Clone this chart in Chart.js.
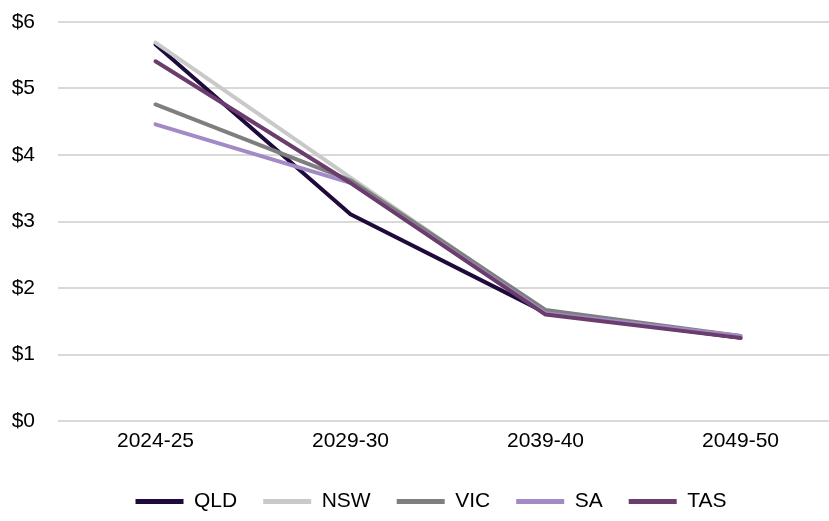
<!DOCTYPE html>
<html>
<head>
<meta charset="utf-8">
<script src="https://cdn.jsdelivr.net/npm/chart.js@4"></script>
<style>
  html, body { margin: 0; padding: 0; background: #fff; overflow: hidden; }
  .wrap { position: relative; width: 838px; height: 521px; }
</style>
</head>
<body>
<div class="wrap"><canvas id="myChart"></canvas></div>
<script>
const years = ["2024-25", "2029-30", "2039-40", "2049-50"];
const states = ["QLD", "NSW", "VIC", "SA", "TAS"];
const qld = [5.66, 3.11, 1.63, 1.25];
const nsw = [5.69, 3.66, 1.65, 1.27];
const vic = [4.76, 3.62, 1.67, 1.28];
const sa = [4.46, 3.58, 1.62, 1.28];
const tas = [5.41, 3.58, 1.60, 1.25];
const yTicks = [0, 1, 2, 3, 4, 5, 6];

const colors = ["#1e0b3c", "#c9c9c9", "#7f7f7f", "#a18ac6", "#6b3d6c"];
const series = [qld, nsw, vic, sa, tas];

const font = "'Liberation Sans Narrow', 'Arial Narrow', 'Liberation Sans', Arial, sans-serif";

const ctx = document.getElementById("myChart").getContext("2d");

// nudge legend so it sits where the reference has it
const legendShift = {
  id: "legendShift",
  afterLayout(chart) {
    const lg = chart.legend;
    lg.left += 24;
    lg.top += 1;
    lg.bottom += 1;
  }
};

const myChart = new Chart(ctx, {
  type: "line",
  data: {
    labels: years,
    datasets: series.map((d, i) => ({
      label: states[i],
      data: d,
      borderColor: colors[i],
      backgroundColor: colors[i],
      borderWidth: 4,
      borderCapStyle: "round",
      borderJoinStyle: "round",
      pointRadius: 0,
      pointStyle: "line",
      tension: 0,
      order: series.length - i
    }))
  },
  options: {
    responsive: true,
    maintainAspectRatio: false,
    animation: false,
    layout: { padding: { top: 22, left: 0, right: 0, bottom: 0 } },
    plugins: {
      legend: {
        position: "bottom",
        labels: {
          usePointStyle: true,
          pointStyleWidth: 48,
          boxHeight: 5,
          padding: 26,
          color: "#000",
          font: { family: font, size: 21 },
          sort: (a, b) => a.datasetIndex - b.datasetIndex,
          generateLabels: chart => {
            const items = Chart.defaults.plugins.legend.labels.generateLabels(chart);
            items.forEach(it => { it.lineWidth = 5; });
            return items;
          }
        }
      },
      tooltip: { enabled: false }
    },
    scales: {
      x: {
        offset: true,
        grid: { display: false, drawTicks: false },
        border: { display: false },
        ticks: { color: "#000", padding: 8, font: { family: font, size: 21 } },
        afterFit: s => { s.height = 43; }
      },
      y: {
        min: 0,
        max: 6,
        afterBuildTicks: s => { s.ticks = yTicks.map(v => ({ value: v })); },
        grid: { color: "#d9d9d9", lineWidth: 2, drawTicks: false },
        border: { display: false },
        ticks: {
          color: "#000",
          padding: 23,
          font: { family: font, size: 21 },
          callback: v => "$" + v
        },
        afterFit: s => {
          s.width = 58;
          s.paddingTop = 13;
          s.paddingBottom = 13;
        }
      }
    }
  },
  plugins: [legendShift]
});
</script>
</body>
</html>
